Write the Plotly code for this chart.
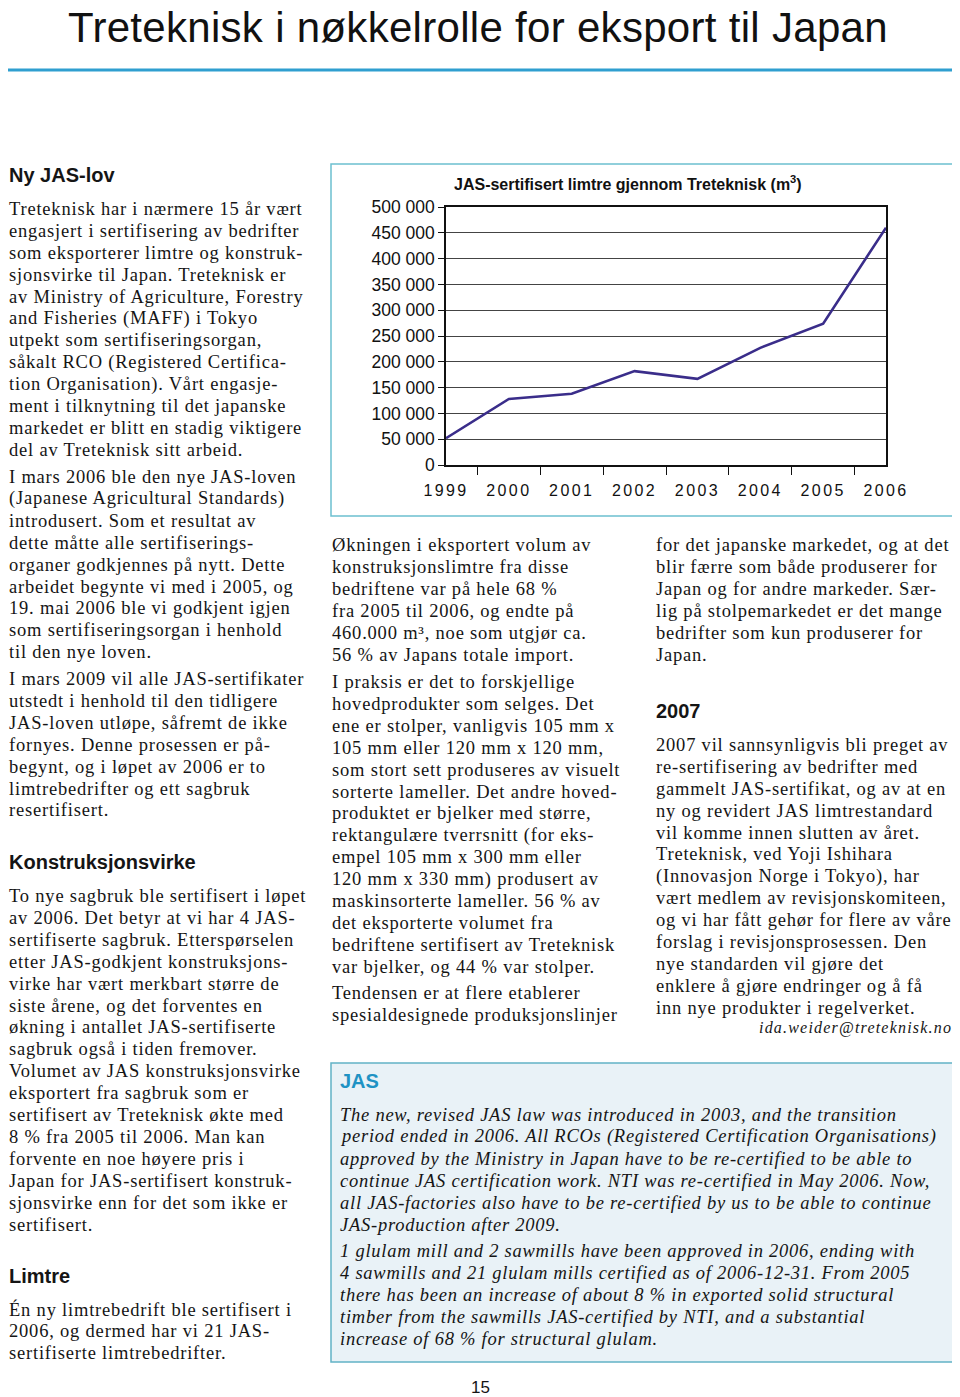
import plotly.graph_objects as go

W, H = 960, 1397
OFF = 8  # the page body margin shifts the figure by 8 px; coordinates below are page pixels

# ---------------- chart data ----------------
years = ["1999", "2000", "2001", "2002", "2003", "2004", "2005", "2006"]
volume_m3 = [52000, 128000, 138000, 182000, 167000, 227000, 274000, 460000]
y_tick_values = [0, 50000, 100000, 150000, 200000, 250000, 300000, 350000, 400000, 450000, 500000]
y_tick_labels = ["0", "50 000", "100 000", "150 000", "200 000", "250 000",
                 "300 000", "350 000", "400 000", "450 000", "500 000"]
chart_title = "JAS-sertifisert limtre gjennom Treteknisk (m<sup>3</sup>)"

# ---------------- page text ----------------
page_title = "Treteknisk i nøkkelrolle for eksport til Japan"

left_p1 = [
    "Treteknisk har i nærmere 15 år vært",
    "engasjert i sertifisering av bedrifter",
    "som eksporterer limtre og konstruk-",
    "sjonsvirke til Japan. Treteknisk er",
    "av Ministry of Agriculture, Forestry",
    "and Fisheries (MAFF) i Tokyo",
    "utpekt som sertifiseringsorgan,",
    "såkalt RCO (Registered Certifica-",
    "tion Organisation). Vårt engasje-",
    "ment i tilknytning til det japanske",
    "markedet er blitt en stadig viktigere",
    "del av Treteknisk sitt arbeid.",
]
left_p2 = [
    "I mars 2006 ble den nye JAS-loven",
    "(Japanese Agricultural Standards)",
    "introdusert. Som et resultat av",
    "dette måtte alle sertifiserings-",
    "organer godkjennes på nytt. Dette",
    "arbeidet begynte vi med i 2005, og",
    "19. mai 2006 ble vi godkjent igjen",
    "som sertifiseringsorgan i henhold",
    "til den nye loven.",
]
left_p3 = [
    "I mars 2009 vil alle JAS-sertifikater",
    "utstedt i henhold til den tidligere",
    "JAS-loven utløpe, såfremt de ikke",
    "fornyes. Denne prosessen er på-",
    "begynt, og i løpet av 2006 er to",
    "limtrebedrifter og ett sagbruk",
    "resertifisert.",
]
left_p4 = [
    "To nye sagbruk ble sertifisert i løpet",
    "av 2006. Det betyr at vi har 4 JAS-",
    "sertifiserte sagbruk. Etterspørselen",
    "etter JAS-godkjent konstruksjons-",
    "virke har vært merkbart større de",
    "siste årene, og det forventes en",
    "økning i antallet JAS-sertifiserte",
    "sagbruk også i tiden fremover.",
    "Volumet av JAS konstruksjonsvirke",
    "eksportert fra sagbruk som er",
    "sertifisert av Treteknisk økte med",
    "8 % fra 2005 til 2006. Man kan",
    "forvente en noe høyere pris i",
    "Japan for JAS-sertifisert konstruk-",
    "sjonsvirke enn for det som ikke er",
    "sertifisert.",
]
left_p5 = [
    "Én ny limtrebedrift ble sertifisert i",
    "2006, og dermed har vi 21 JAS-",
    "sertifiserte limtrebedrifter.",
]
mid_p1 = [
    "Økningen i eksportert volum av",
    "konstruksjonslimtre fra disse",
    "bedriftene var på hele 68 %",
    "fra 2005 til 2006, og endte på",
    "460.000 m³, noe som utgjør ca.",
    "56 % av Japans totale import.",
]
mid_p2 = [
    "I praksis er det to forskjellige",
    "hovedprodukter som selges. Det",
    "ene er stolper, vanligvis 105 mm x",
    "105 mm eller 120 mm x 120 mm,",
    "som stort sett produseres av visuelt",
    "sorterte lameller. Det andre hoved-",
    "produktet er bjelker med større,",
    "rektangulære tverrsnitt (for eks-",
    "empel 105 mm x 300 mm eller",
    "120 mm x 330 mm) produsert av",
    "maskinsorterte lameller. 56 % av",
    "det eksporterte volumet fra",
    "bedriftene sertifisert av Treteknisk",
    "var bjelker, og 44 % var stolper.",
]
mid_p3 = [
    "Tendensen er at flere etablerer",
    "spesialdesignede produksjonslinjer",
]
right_p1 = [
    "for det japanske markedet, og at det",
    "blir færre som både produserer for",
    "Japan og for andre markeder. Sær-",
    "lig på stolpemarkedet er det mange",
    "bedrifter som kun produserer for",
    "Japan.",
]
right_p2 = [
    "2007 vil sannsynligvis bli preget av",
    "re-sertifisering av bedrifter med",
    "gammelt JAS-sertifikat, og av at en",
    "ny og revidert JAS limtrestandard",
    "vil komme innen slutten av året.",
    "Treteknisk, ved Yoji Ishihara",
    "(Innovasjon Norge i Tokyo), har",
    "vært medlem av revisjonskomiteen,",
    "og vi har fått gehør for flere av våre",
    "forslag i revisjonsprosessen. Den",
    "nye standarden vil gjøre det",
    "enklere å gjøre endringer og å få",
    "inn nye produkter i regelverket.",
]
box_p1 = [
    "The new, revised JAS law was introduced in 2003, and the transition",
    "period ended in 2006. All RCOs (Registered Certification Organisations)",
    "approved by the Ministry in Japan have to be re-certified to be able to",
    "continue JAS certification work. NTI was re-certified in May 2006. Now,",
    "all JAS-factories also have to be re-certified by us to be able to continue",
    "JAS-production after 2009.",
]
box_p2 = [
    "1 glulam mill and 2 sawmills have been approved in 2006, ending with",
    "4 sawmills and 21 glulam mills certified as of 2006-12-31. From 2005",
    "there has been an increase of about 8 % in exported solid structural",
    "timber from the sawmills JAS-certified by NTI, and a substantial",
    "increase of 68 % for structural glulam.",
]

SERIF = "Liberation Serif"
SANS = "Liberation Sans"
TXT = "#151515"
STEP = 21.9
BODY = 18.5
BODY_LS = 0.8


def px(x):
    return (x - OFF) / W


def py(y):
    return 1 - (y - OFF) / H


def spaced(text, ls):
    if not ls:
        return text
    return f'<span style="letter-spacing:{ls}px">{text}</span>'


annotations = []


def add_text(text, x, y, size, family, color=TXT, xanchor="left", bold=False, italic=False, ls=0):
    if bold:
        text = f"<b>{text}</b>"
    if italic:
        text = f"<i>{text}</i>"
    annotations.append(dict(
        text=spaced(text, ls), x=px(x), y=py(y), xref="paper", yref="paper",
        xanchor=xanchor, yanchor="middle", showarrow=False, borderpad=0,
        font=dict(family=family, size=size, color=color),
    ))


def add_lines(lines, x, y0, size=BODY, family=SERIF, italic=False, ls=BODY_LS):
    for i, t in enumerate(lines):
        add_text(t, x, y0 + i * STEP, size, family, italic=italic, ls=ls)


# title (kept just below the page's top edge so the glyphs are not clipped)
add_text(page_title, 478, 27, 42, SANS, color="#111", xanchor="center", ls=0.3)

# left column
add_text("Ny JAS-lov", 8, 175, 20, SANS, bold=True)
add_lines(left_p1, 8, 209)
add_lines(left_p2, 8, 477)
add_lines(left_p3, 8, 679)
add_text("Konstruksjonsvirke", 8, 862, 20, SANS, bold=True)
add_lines(left_p4, 8, 896)
add_text("Limtre", 8, 1276, 20, SANS, bold=True)
add_lines(left_p5, 8, 1309)

# middle column
add_lines(mid_p1, 331, 545)
add_lines(mid_p2, 331, 682)
add_lines(mid_p3, 331, 993)

# right column
add_lines(right_p1, 655, 545)
add_text("2007", 655, 711, 20, SANS, bold=True)
add_lines(right_p2, 655, 745)
add_text("ida.weider@treteknisk.no", 953, 1028, 16, SERIF, xanchor="right", italic=True, ls=1.2)

# JAS box
add_text("JAS", 339, 1081, 20, SANS, color="#1f93c4", bold=True)
add_lines(box_p1, 339, 1115, italic=True, ls=0.75)
add_lines(box_p2, 339, 1251, italic=True, ls=0.75)

# page number
add_text("15", 480, 1387, 17, SANS, xanchor="center")

# chart title
add_text(chart_title, 628, 183, 16, SANS, color="#111", xanchor="center", bold=True)

shapes = [
    # rule under title
    dict(type="line", xref="paper", yref="paper", x0=px(5), x1=px(955), y0=py(70), y1=py(70),
         line=dict(color="#2f9fd0", width=3)),
    # chart frame
    dict(type="rect", xref="paper", yref="paper", x0=px(331), x1=px(955), y0=py(516), y1=py(164),
         line=dict(color="#6cc0d0", width=1.5), fillcolor="rgba(0,0,0,0)", layer="below"),
    # JAS box
    dict(type="rect", xref="paper", yref="paper", x0=px(331), x1=px(955), y0=py(1362), y1=py(1063),
         line=dict(color="#62b3c6", width=1.5), fillcolor="#e9f2f7", layer="below"),
]

fig = go.Figure()
fig.add_trace(go.Scatter(
    x=years, y=volume_m3, mode="lines",
    line=dict(color="#3a2d8a", width=2.6),
    hoverinfo="x+y",
))

fig.update_layout(
    template="none",
    width=W, height=H,
    margin=dict(l=0, r=0, t=0, b=0, pad=0, autoexpand=False),
    paper_bgcolor="white",
    plot_bgcolor="white",
    showlegend=False,
    annotations=annotations,
    shapes=shapes,
    xaxis=dict(
        domain=[px(446), px(886)],
        type="category",
        tickson="boundaries",
        tickmode="array", tickvals=years,
        ticktext=[spaced(y, 2.4) for y in years],
        ticks="outside", ticklen=8, tickwidth=1.2, tickcolor="#111",
        showline=True, linecolor="#111", linewidth=1.5, mirror=True,
        showgrid=False, zeroline=False, automargin=False,
        tickfont=dict(family=SANS, size=16, color="#111"),
        ticklabelstandoff=10,
    ),
    yaxis=dict(
        domain=[py(465), py(207)],
        range=[0, 500000],
        tickmode="array", tickvals=y_tick_values, ticktext=y_tick_labels,
        ticks="outside", ticklen=6, tickwidth=1.2, tickcolor="#111",
        showline=True, linecolor="#111", linewidth=1.5, mirror=True,
        showgrid=True, gridcolor="#444", gridwidth=1, zeroline=False, automargin=False,
        tickfont=dict(family=SANS, size=17.5, color="#111"),
    ),
)

fig.write_html("out.html")
